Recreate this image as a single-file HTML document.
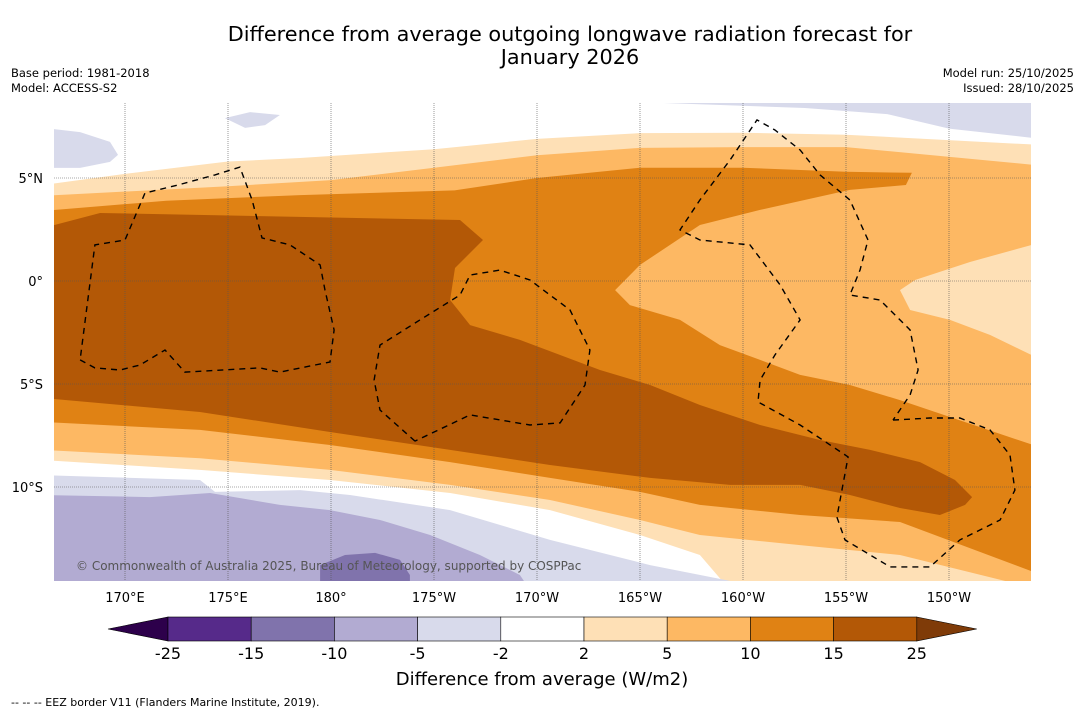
<!DOCTYPE html>
<html><head><meta charset="utf-8"><style>
body{margin:0;background:#fff;font-family:"Liberation Sans","DejaVu Sans",sans-serif}
svg text{font-family:"DejaVu Sans","Liberation Sans",sans-serif}
</style></head><body>
<svg id="s" width="1085" height="713" xmlns="http://www.w3.org/2000/svg">
<rect width="1085" height="713" fill="#fff"/>
<text x="570" y="41" font-size="20.8" text-anchor="middle">Difference from average outgoing longwave radiation forecast for</text>
<text x="570" y="64" font-size="20.8" text-anchor="middle">January 2026</text>
<text x="11" y="77" font-size="11.5">Base period: 1981-2018</text>
<text x="11" y="92" font-size="11.5">Model: ACCESS-S2</text>
<text x="1074" y="77" font-size="11.5" text-anchor="end">Model run: 25/10/2025</text>
<text x="1074" y="92" font-size="11.5" text-anchor="end">Issued: 28/10/2025</text>
<defs><clipPath id="mc"><rect x="54" y="103" width="977" height="478"/></clipPath></defs>
<g id="map" clip-path="url(#mc)"></g>
<g id="grid"></g>
<g id="eez"></g>
<text x="76" y="570" font-size="12" fill="#555">© Commonwealth of Australia 2025, Bureau of Meteorology, supported by COSPPac</text>
<g id="axes"></g>
<g id="cbar"></g>
<text x="542" y="685" font-size="18" text-anchor="middle">Difference from average (W/m2)</text>
<text x="11" y="706" font-size="11">--  --  -- EEZ border V11 (Flanders Marine Institute, 2019).</text>
</svg>
<script>
// axis functions (lon in degrees east 0-360)
const X = lon => 331 + (lon - 180) * 20.6;
const Y = lat => 281 - lat * 20.6;

const lonTicks = [170,175,180,185,190,195,200,205,210];
const lonLabels = ["170°E","175°E","180°","175°W","170°W","165°W","160°W","155°W","150°W"];
const latTicks = [5,0,-5,-10];
const latLabels = ["5°N","0°","5°S","10°S"];

const cbBounds = ["-25","-15","-10","-5","-2","2","5","10","15","25"];
const cbColors = ["#2d004b","#562a8a","#8073ac","#b2abd2","#d8daeb","#ffffff","#fee0b6","#fdb863","#e08214","#b35806","#7f3b08"];

const lvlLight = [[166,-8.69],[166,4.66],[170,5.2],[175,5.8],[178.5,5.97],[185,6.4],[190,6.9],[195,7.18],[200,7.2],[205,7.1],[214.5,6.6],[214.5,-15],[199.37,-15],[197.91,-13.3],[195,-12.33],[190.63,-11.12],[185.78,-10.29],[179.95,-9.66],[173.64,-9.17]];
const lvl5 = [[166,-8.2],[166,4.13],[175,4.6],[180,4.9],[185,5.5],[190,6.1],[195,6.46],[200,6.5],[205,6.5],[214.5,5.6],[214.5,-15],[207.62,-13.3],[202.77,-12.82],[197.91,-12.33],[195,-11.6],[190.63,-10.63],[185.78,-9.9],[179.95,-9.17],[173.64,-8.6]];
const lvl10 = [[166,-6.84],[166,3.4],[172,3.9],[178.5,4.17],[186,4.4],[190,5.0],[195,5.5],[200,5.5],[205,5.3],[208.2,5.25],[207.91,4.66],[205.19,4.42],[200.83,3.45],[197.91,2.72],[195,0.78],[193.79,-0.44],[194.51,-1.17],[196.94,-1.89],[198.88,-3.11],[200.83,-3.83],[202.77,-4.56],[205.19,-5.05],[207.62,-5.78],[214.5,-8.1],[214.5,-14.27],[207.62,-11.7],[202.77,-11.36],[197.91,-10.87],[195,-10.24],[190.63,-9.56],[185.78,-8.79],[179.95,-7.96],[173.64,-7.23]];
const lvl15 = [[166,2.57],[168.79,3.3],[186.26,2.96],[187.38,1.99],[186.02,0.63],[185.78,-0.92],[186.75,-2.14],[189.17,-2.86],[193.06,-4.32],[195.49,-5.05],[197.91,-6.02],[200.83,-6.99],[203.74,-7.72],[206.17,-8.2],[208.59,-8.79],[210.29,-9.66],[211.12,-10.49],[210.78,-10.87],[209.56,-11.36],[207.62,-11.02],[205.19,-10.39],[202.77,-9.9],[199.37,-9.9],[195.49,-9.56],[190.63,-8.93],[185.78,-8.2],[179.95,-7.33],[173.64,-6.36],[166,-5.68]];
const lightRight = [[214.5,1.89],[211.02,0.92],[208.35,0.05],[207.62,-0.44],[208.11,-1.41],[210.05,-1.89],[212,-2.62],[214.5,-3.83]];
const lavTopLeft = [[166,7.43],[167.82,7.23],[169.27,6.75],[169.66,6.12],[169.27,5.78],[167.82,5.49],[166,5.49]];
const lavTopMid = [[174.85,7.91],[176.07,8.2],[177.52,8.06],[176.8,7.57],[175.83,7.43]];
const lavTopRight = [[194.5,9],[214.5,9],[214.5,6.9],[210,7.4],[207,8.1],[203,8.4],[194.5,8.7]];
const lavLow1 = [[166,-9.42],[173.64,-9.66],[174.37,-10.24],[178.5,-10.15],[180.92,-10.39],[185.78,-11.12],[190.63,-12.57],[195.49,-13.79],[199.37,-14.56],[199.4,-15],[166,-15]];
const lavLow2 = [[166,-10.39],[171.21,-10.49],[174.13,-10.29],[177.52,-10.87],[179.95,-11.12],[182.38,-11.6],[184.81,-12.33],[187.23,-13.3],[189.17,-14.27],[189.66,-15],[166,-15]];
const lavLow3 = [[179.47,-15],[179.47,-13.79],[180.68,-13.3],[182.14,-13.2],[183.35,-13.54],[183.83,-14.27],[183.83,-15]];
const eezLines = [
 [[167.82,-3.83],[168.54,-4.22],[169.76,-4.32],[170.73,-4.08],[171.94,-3.35],[172.91,-4.42],[176.55,-4.22],[177.52,-4.42],[179.95,-3.93],[180.15,-2.38],[179.71,-0.44],[179.47,0.78],[178.01,1.75],[176.65,2.09],[176.17,3.93],[175.58,5.53],[174.37,5.15],[172.57,4.66],[170.97,4.27],[170,1.99],[168.54,1.75],[167.82,-3.83]],
 [[184.08,-7.77],[182.38,-6.26],[182.09,-4.81],[182.38,-3.11],[184.32,-1.89],[186.26,-0.68],[186.75,0.29],[188.2,0.53],[189.66,0.05],[191.6,-1.41],[192.57,-3.35],[192.33,-5.05],[191.12,-6.89],[189.66,-6.99],[186.75,-6.5],[184.08,-7.77]],
 [[207.28,-6.75],[209.08,-6.65],[210.53,-6.65],[211.99,-7.23],[212.96,-8.45],[213.2,-10.15],[212.48,-11.6],[210.53,-12.57],[209.08,-13.88],[207.14,-13.88],[204.95,-12.57],[204.56,-11.46],[205.1,-8.54],[202.77,-6.99],[200.73,-5.87],[200.83,-4.81],[201.55,-3.59],[202.77,-1.89],[201.8,-0.19],[200.34,1.75],[197.91,1.99],[196.94,2.48],[197.91,3.93],[199.37,5.87],[200.68,7.82],[201.55,7.33],[202.77,6.36],[203.74,5.15],[205.19,3.93],[206.07,1.99],[205.68,0.53],[205.19,-0.68],[206.65,-0.92],[208.11,-2.38],[208.5,-4.32],[208.11,-5.53],[207.28,-6.75]]
];

const svgNS = "http://www.w3.org/2000/svg";
const map = document.getElementById('map');
function poly(parent, pts, fill, name){
  const p = document.createElementNS(svgNS,'polygon');
  p.setAttribute('points', pts.map(([lo,la])=>X(lo).toFixed(1)+','+Y(la).toFixed(1)).join(' '));
  p.setAttribute('fill', fill);
  
  
  parent.appendChild(p);
}
poly(map, lvlLight, "#fee0b6", "anomaly-2-5");
poly(map, lvl5, "#fdb863", "anomaly-5-10");
poly(map, lvl10, "#e08214", "anomaly-10-15");
poly(map, lightRight, "#fee0b6", "anomaly-2-5-east");
poly(map, lvl15, "#b35806", "anomaly-15-25");
poly(map, lavTopLeft, "#d8daeb", "anomaly-neg2-5-nw");
poly(map, lavTopMid, "#d8daeb", "anomaly-neg2-5-n");
poly(map, lavTopRight, "#d8daeb", "anomaly-neg2-5-ne");
poly(map, lavLow1, "#d8daeb", "anomaly-neg2-5-sw");
poly(map, lavLow2, "#b2abd2", "anomaly-neg5-10-sw");
poly(map, lavLow3, "#8073ac", "anomaly-neg10-15-sw");

const grid = document.getElementById('grid');
const axes = document.getElementById('axes');
lonTicks.forEach((lo,i)=>{
  const l = document.createElementNS(svgNS,'line');
  l.setAttribute('x1',X(lo)); l.setAttribute('x2',X(lo)); l.setAttribute('y1',103); l.setAttribute('y2',581);
  l.setAttribute('stroke','#555'); l.setAttribute('stroke-width','0.6'); l.setAttribute('stroke-dasharray','1 1');
   
  grid.appendChild(l);
  const t = document.createElementNS(svgNS,'text');
  t.setAttribute('x',X(lo)); t.setAttribute('y',602); t.setAttribute('font-size','13'); t.setAttribute('text-anchor','middle');
   
  t.textContent = lonLabels[i]; axes.appendChild(t);
});
latTicks.forEach((la,i)=>{
  const l = document.createElementNS(svgNS,'line');
  l.setAttribute('x1',54); l.setAttribute('x2',1031); l.setAttribute('y1',Y(la)); l.setAttribute('y2',Y(la));
  l.setAttribute('stroke','#555'); l.setAttribute('stroke-width','0.6'); l.setAttribute('stroke-dasharray','1 1');
   
  grid.appendChild(l);
  const t = document.createElementNS(svgNS,'text');
  t.setAttribute('x',43); t.setAttribute('y',Y(la)+5); t.setAttribute('font-size','13'); t.setAttribute('text-anchor','end');
   
  t.textContent = latLabels[i]; axes.appendChild(t);
});
const eez = document.getElementById('eez');
eezLines.forEach(pts=>{
  const p = document.createElementNS(svgNS,'polyline');
  p.setAttribute('points', pts.map(([lo,la])=>X(lo).toFixed(1)+','+Y(la).toFixed(1)).join(' '));
  p.setAttribute('fill','none'); p.setAttribute('stroke','#000'); p.setAttribute('stroke-width','1.4'); p.setAttribute('stroke-dasharray','6 5');
  p.setAttribute('clip-path','url(#mc)');
   
  eez.appendChild(p);
});
// colorbar
const cb = document.getElementById('cbar');
const cx0 = 168, cw = 83.2, cy = 617, ch = 24;
cbColors.forEach((c,i)=>{
  let el;
  if(i===0){ el = document.createElementNS(svgNS,'polygon'); el.setAttribute('points',`108,${cy+ch/2} ${cx0},${cy} ${cx0},${cy+ch}`); }
  else if(i===cbColors.length-1){ const xe = cx0+cw*(i-1); el = document.createElementNS(svgNS,'polygon'); el.setAttribute('points',`${xe},${cy} ${xe+60},${cy+ch/2} ${xe},${cy+ch}`); }
  else { el = document.createElementNS(svgNS,'rect'); el.setAttribute('x',cx0+cw*(i-1)); el.setAttribute('y',cy); el.setAttribute('width',cw); el.setAttribute('height',ch); }
  el.setAttribute('fill',c); el.setAttribute('stroke','#000'); el.setAttribute('stroke-width','0.6');
   
  cb.appendChild(el);
});
cbBounds.forEach((b,i)=>{
  const t = document.createElementNS(svgNS,'text');
  t.setAttribute('x',cx0+cw*i); t.setAttribute('y',659); t.setAttribute('font-size','16'); t.setAttribute('text-anchor','middle');
   
  t.textContent = b; cb.appendChild(t);
});
</script>
</body></html>
